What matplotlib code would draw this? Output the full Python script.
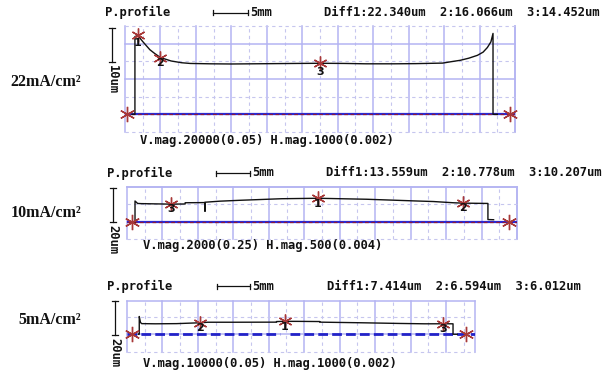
import matplotlib
matplotlib.use("Agg")
import matplotlib.pyplot as plt
from matplotlib.lines import Line2D

# ---------------- data ----------------
labels = ["22mA/cm²", "10mA/cm²", "5mA/cm²"]
diff_texts = ["Diff1:22.340um  2:16.066um  3:14.452um",
              "Diff1:13.559um  2:10.778um  3:10.207um",
              "Diff1:7.414um  2:6.594um  3:6.012um"]
mag_texts = ["V.mag.20000(0.05) H.mag.1000(0.002)",
             "V.mag.2000(0.25) H.mag.500(0.004)",
             "V.mag.10000(0.05) H.mag.1000(0.002)"]
vbar_texts = ["10um", "20um", "20um"]

# profile 22 mA/cm2 (x in mm, y in um)
x1 = [1.0, 1.4, 1.4, 1.8, 2.5, 3.5, 4.2, 5.0, 6.5, 8.0, 9.2, 12, 15, 18, 21, 24, 27.5,
      31, 34, 38, 41, 44.8, 46.0, 47.3, 48.5, 49.7, 50.5, 51.1, 51.6, 51.9, 51.9, 52.5]
y1 = [0, 0, 22.0, 22.34, 20.6, 18.3, 17.2, 16.07, 15.1, 14.6, 14.4, 14.3, 14.25, 14.3,
      14.35, 14.4, 14.45, 14.4, 14.3, 14.3, 14.35, 14.5, 14.9, 15.3, 15.9, 16.7, 17.6,
      18.9, 20.5, 22.9, 0, 0]
m1x = [1.8, 5.0, 27.5]
m1y = [22.34, 16.07, 14.45]
b1x = [0.3, 54.3]

# profile 10 mA/cm2
x2 = [1.0, 1.13, 1.13, 1.5, 2.0, 6.16, 8.2, 8.2, 11.0, 11.0, 11.0, 13.1, 15.9, 21.8,
      26.94, 33.8, 40.9, 43.2, 46.0, 47.35, 50.9, 50.9, 51.7]
y2 = [0, 0, 12.0, 10.6, 10.5, 10.21, 10.3, 11.0, 11.1, 6.2, 11.3, 11.9, 12.4, 13.3,
      13.56, 13.0, 12.0, 11.7, 11.0, 10.78, 10.6, 1.4, 1.3]
m2x = [26.94, 47.35, 6.16]
m2y = [13.559, 10.778, 10.207]
b2x = [0.66, 53.9]

# profile 5 mA/cm2
x3 = [1.6, 1.73, 1.73, 1.9, 2.07, 4, 7, 10.3, 11.4, 15, 21.1, 21.1, 22.28, 24, 27.2,
      27.2, 33, 38.5, 42, 44.6, 46.0, 46.0, 46.6]
y3 = [0, 0, 10.2, 6.8, 6.1, 6.0, 6.1, 6.59, 6.9, 6.9, 6.95, 7.3, 7.41, 7.4, 7.3,
      6.95, 6.6, 6.2, 6.0, 6.01, 6.0, 0, 0]
m3x = [22.28, 10.3, 44.6]
m3y = [7.414, 6.594, 6.012]
b3x = [0.75, 47.9]

profiles = [(x1, y1, m1x, m1y, b1x), (x2, y2, m2x, m2y, b2x), (x3, y3, m3x, m3y, b3x)]

# ---------------- layout ----------------
W, H = 613, 382
fig = plt.figure(figsize=(W / 100, H / 100), dpi=100)

def fx(px):
    return px / W

def fy(py):
    return 1 - py / H

# axes boxes in pixels: left, top, right, bottom
boxes = [(125, 26, 515, 132), (127, 187, 517, 239.5), (127, 301, 475, 352)]
xlims = [(0, 55), (0, 55), (0, 49.1)]
ylims = [(-5, 25), (-10, 20), (-10.2, 19.1)]
hmajor = [[0, 10, 20], [0, 20], [0]]
hminor = [[-5, 5, 15, 25], [-10, 10], [-10, 10]]

header_y = [12.7, 173, 286]
header_x = [(105, 213, 248, 250, 324), (107, 216, 250, 252, 326), (107, 217, 250, 252, 327)]
label_y = [82, 213, 320]
vbar = [(112, 28, 62), (113, 188, 222), (115, 301, 335)]
mag_pos = [(140, 141), (143, 246), (143, 364)]
lab_off = [[2.2, 1.6, 2.4], [3.0, 3.0, 3.0], [3.0, 3.0, 3.0]]

grid_solid = "#b4b4f2"
grid_dash = "#c6c6ee"
mono = dict(family="DejaVu Sans Mono", weight="bold", fontsize=8.75, color="#111111")

for i in range(3):
    l, t, r, b = boxes[i]
    ax = fig.add_axes([fx(l), fy(b), (r - l) / W, (b - t) / H])
    ax.set_xlim(*xlims[i])
    ax.set_ylim(*ylims[i])
    ax.set_xticks([])
    ax.set_yticks([])
    for s in ax.spines.values():
        s.set_visible(False)
    x0, x1_ = xlims[i]
    y0, y1_ = ylims[i]
    # vertical grid
    v = 0.0
    while v <= x1_ + 1e-6:
        ax.axvline(v, color=grid_solid, lw=1.1, zorder=0, clip_on=False)
        if v + 2.5 < x1_:
            ax.axvline(v + 2.5, color=grid_dash, lw=0.8, ls=(0, (3, 3)), zorder=0, clip_on=False)
        v += 5
    ax.axvline(x1_, color=grid_solid, lw=1.1, zorder=0, clip_on=False)
    for h in hmajor[i]:
        ax.axhline(h, color=grid_solid, lw=1.1, zorder=0, clip_on=False)
    for h in hminor[i]:
        ax.axhline(h, color=grid_dash, lw=0.8, ls=(0, (3, 3)), zorder=0, clip_on=False)
    if i > 0:
        ax.axhline(y1_, color=grid_solid, lw=1.1, zorder=0, clip_on=False)

    px_, py_, mx, my, bx = profiles[i]
    # baseline
    if i < 2:
        ax.axhline(0, color="#2a2ad6", lw=1.6, zorder=2)
        ax.axhline(0, color="#8a1a40", lw=0.9, ls=(0, (3, 2)), zorder=3)
    else:
        ax.plot([x0, 21.6], [0, 0], color="#2222c8", lw=2.0, ls=(0, (3.5, 1.5)), zorder=2)
        ax.plot([23.0, x1_], [0, 0], color="#2222c8", lw=2.0, ls=(0, (3.5, 1.5)), zorder=2)
    # profile
    ax.plot(px_, py_, color="#111111", lw=1.0, zorder=4, clip_on=False)
    # markers
    ax.plot(mx, my, ls="none", marker=(6, 2, 0), ms=10, mew=1.0, color="#a83838",
            zorder=5, clip_on=False)
    ax.plot(bx, [0, 0], ls="none", marker=(6, 2, 0), ms=11, mew=1.0, color="#a83838",
            zorder=5, clip_on=False)
    for k in range(3):
        ax.text(mx[k], my[k] - lab_off[i][k], str(k + 1), ha="center", va="center",
                fontsize=8, fontweight="bold", family="DejaVu Sans", color="#111111",
                zorder=6)

    # header
    hx = header_x[i]
    hy = header_y[i]
    fig.text(fx(hx[0]), fy(hy), "P.profile", ha="left", va="center", **mono)
    fig.add_artist(Line2D([fx(hx[1]), fx(hx[2])], [fy(hy), fy(hy)], color="#111111",
                          lw=0.9, transform=fig.transFigure))
    for ex in (hx[1], hx[2]):
        fig.add_artist(Line2D([fx(ex), fx(ex)], [fy(hy - 2.5), fy(hy + 2.5)],
                              color="#111111", lw=0.9, transform=fig.transFigure))
    fig.text(fx(hx[3]), fy(hy), "5mm", ha="left", va="center", **mono)
    fig.text(fx(hx[4]), fy(hy), diff_texts[i], ha="left", va="center", **mono)

    # left label
    fig.text(fx(81), fy(label_y[i]), labels[i], ha="right", va="center",
             family="Liberation Serif", fontweight="bold", fontsize=11.5, color="#111111")

    # vertical scale bar
    vx, vt, vb = vbar[i]
    fig.add_artist(Line2D([fx(vx), fx(vx)], [fy(vt), fy(vb)], color="#111111", lw=0.9,
                          transform=fig.transFigure))
    for ey in (vt, vb):
        fig.add_artist(Line2D([fx(vx - 3), fx(vx + 3)], [fy(ey), fy(ey)], color="#111111",
                              lw=0.9, transform=fig.transFigure))
    fig.text(fx(vx), fy(vb + 3), vbar_texts[i], rotation=270, ha="center", va="top", **mono)

    # magnification text
    mxp, myp = mag_pos[i]
    fig.text(fx(mxp), fy(myp), mag_texts[i], ha="left", va="center", **mono)

fig.savefig("out.png", dpi=100, facecolor="white")
